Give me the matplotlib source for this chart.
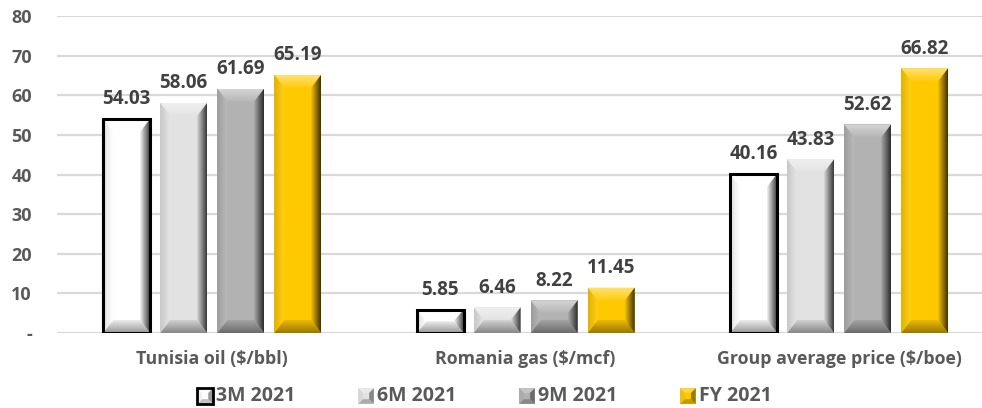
import numpy as np
import matplotlib
matplotlib.use("Agg")
import matplotlib.pyplot as plt
from matplotlib.patches import Polygon, Rectangle
from matplotlib.legend_handler import HandlerBase
from matplotlib.colors import to_rgb

plt.rcParams['font.family'] = ['Open Sans', 'DejaVu Sans']

categories = ["Tunisia oil ($/bbl)", "Romania gas ($/mcf)",
              "Group average price ($/boe)"]
periods = ["3M 2021", "6M 2021", "9M 2021", "FY 2021"]
q1 = [54.03, 5.85, 40.16]
h1 = [58.06, 6.46, 43.83]
m9 = [61.69, 8.22, 52.62]
fy = [65.19, 11.45, 66.82]
series = [q1, h1, m9, fy]

yticks = [0, 10, 20, 30, 40, 50, 60, 70, 80]
yticklabels = ["-", "10", "20", "30", "40", "50", "60", "70", "80"]

face = ["#ffffff", "#e2e2e2", "#b2b2b2", "#ffc900"]
edges = ["#000000", "none", "none", "none"]
text_col = "#404040"
axis_col = "#595959"


def mix(c, other, f):
    c = np.array(to_rgb(c))
    return tuple(c * (1 - f) + np.array(other) * f)


def facets(x0, x1, y0, y1, bx, by):
    by = min(by, (y1 - y0) / 2)
    return {
        "top": [(x0, y1), (x1, y1), (x1 - bx, y1 - by), (x0 + bx, y1 - by)],
        "bottom": [(x0, y0), (x1, y0), (x1 - bx, y0 + by), (x0 + bx, y0 + by)],
        "left": [(x0, y0), (x0 + bx, y0 + by), (x0 + bx, y1 - by), (x0, y1)],
        "right": [(x1, y0), (x1 - bx, y0 + by), (x1 - bx, y1 - by), (x1, y1)],
    }


def facet_ramps(c):
    # (outer colour, inner colour) for each bevel side
    white, black = (1, 1, 1), (0, 0, 0)
    return {
        "top": (mix(c, white, 0.45), mix(c, white, 0.05)),
        "left": (mix(c, black, 0.12), mix(c, white, 0.1)),
        "bottom": (mix(c, black, 0.4), mix(c, black, 0.08)),
        "right": (mix(c, black, 0.75), mix(c, black, 0.05)),
    }


def ramp_image(outer, inner, side, n=32):
    t = np.linspace(0, 1, n)[:, None]
    g = np.array(outer)[None, :] * (1 - t) + np.array(inner)[None, :] * t
    if side == "top":
        return g[:, None, :]              # row 0 is drawn at top (upper origin)
    if side == "bottom":
        return g[::-1][:, None, :]
    if side == "left":
        return g[None, :, :]
    return g[::-1][None, :, :]


def draw_bevel(target, x0, x1, y0, y1, bx, by, c, trans, zorder):
    ramps = facet_ramps(c)
    byc = min(by, (y1 - y0) / 2)
    boxes = {"top": (x0, x1, y1 - byc, y1), "bottom": (x0, x1, y0, y0 + byc),
             "left": (x0, x0 + bx, y0, y1), "right": (x1 - bx, x1, y0, y1)}
    for key, pts in facets(x0, x1, y0, y1, bx, by).items():
        clip = Polygon(pts, closed=True, transform=trans, facecolor="none",
                       edgecolor="none")
        outer, inner = ramps[key]
        bx0, bx1, by0, by1 = boxes[key]
        im = target.imshow(ramp_image(outer, inner, key),
                           extent=(bx0, bx1, by0, by1), aspect="auto",
                           interpolation="bilinear", zorder=zorder,
                           transform=trans)
        im.set_clip_path(clip)


class BevelHandler(HandlerBase):
    def __init__(self, colour, edge):
        super().__init__()
        self.colour = colour
        self.edge = edge

    def create_artists(self, legend, orig_handle, xdescent, ydescent,
                       width, height, fontsize, trans):
        s = min(width, height * 1.15)
        x0, y0 = -xdescent, -ydescent + (height - s) / 2 - 1
        arts = [Rectangle((x0, y0), s, s, facecolor=self.colour,
                          edgecolor="none", transform=trans)]
        ramps = facet_ramps(self.colour)
        for key, pts in facets(x0, x0 + s, y0, y0 + s, s * 0.3, s * 0.3).items():
            outer, inner = ramps[key]
            col = tuple((np.array(outer) + np.array(inner)) / 2)
            arts.append(Polygon(pts, closed=True, facecolor=col,
                                edgecolor="none", transform=trans))
        if self.edge != "none":
            arts.append(Rectangle((x0, y0), s, s, facecolor="none",
                                  edgecolor=self.edge, lw=2,
                                  transform=trans))
        return arts


fig = plt.figure(figsize=(9.82, 4.08), dpi=100)
ax = fig.add_axes([57 / 982, 75 / 408, 925 / 982, 317 / 408])

x = np.arange(len(categories))
width = 0.15
step = 0.182
offsets = (np.arange(4) - 1.5) * step

# bevel sizes, pixels converted to data units
bx = 10 / 313.5
by = 13 * 80 / 317

handles = []
for i, vals in enumerate(series):
    bars = ax.bar(x + offsets[i], vals, width, color=face[i],
                  edgecolor="none", zorder=3, label=periods[i])
    handles.append(bars)
    for b in bars:
        x0, x1 = b.get_x(), b.get_x() + b.get_width()
        h = b.get_height()
        draw_bevel(ax, x0, x1, 0, h, bx, by, face[i], ax.transData, 4)
        if edges[i] != "none":
            ax.add_patch(Rectangle((x0, 0), x1 - x0, h, facecolor="none",
                                   edgecolor=edges[i], lw=2.2, zorder=5))
    ax.bar_label(bars, fmt="%.2f", padding=7, fontsize=13.5,
                 fontweight="bold", color=text_col, zorder=6)

ax.set_ylim(0, 80)
ax.set_xlim(-0.495, 2.456)
ax.set_aspect("auto")

ax.set_yticks(yticks)
ax.set_yticklabels(yticklabels)
ax.yaxis.grid(True, color="#d9d9d9", lw=1.6, zorder=0)
ax.set_axisbelow(True)
for sp in ax.spines.values():
    sp.set_visible(False)
ax.tick_params(axis="y", length=0, pad=18, labelsize=13,
               labelcolor=axis_col)
for lab in ax.get_yticklabels():
    lab.set_fontweight("bold")

ax.set_xticks(x)
ax.set_xticklabels(categories, fontsize=12.8, fontweight="bold",
                   color=axis_col)
ax.tick_params(axis="x", length=0, pad=12)

leg = ax.legend(handles, periods, loc="center",
                bbox_to_anchor=(0.462, -0.2), ncol=4, frameon=False,
                prop={"family": "Open Sans", "weight": "bold", "size": 14},
                labelcolor=axis_col, handlelength=0.8, handleheight=0.8,
                handletextpad=0.15, columnspacing=3.25,
                handler_map={handles[i]: BevelHandler(face[i], edges[i])
                             for i in range(4)})

fig.savefig("out.png", dpi=100, facecolor="white")
